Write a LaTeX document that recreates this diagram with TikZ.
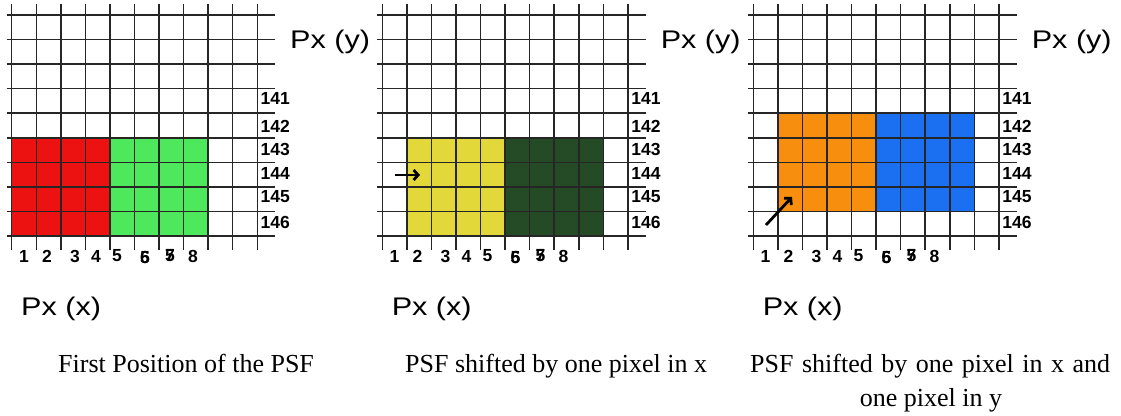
\documentclass[tikz,border=0pt]{standalone}
\usepackage{fontspec}
\setmainfont{Liberation Serif}
\setsansfont{Liberation Sans}
\usetikzlibrary{arrows.meta}
\definecolor{cred}{RGB}{236,18,18}
\definecolor{cgreen}{RGB}{78,232,92}
\definecolor{cyellow}{RGB}{226,216,58}
\definecolor{cdark}{RGB}{36,74,38}
\definecolor{corange}{RGB}{248,142,14}
\definecolor{cblue}{RGB}{26,112,240}
\newcommand\psfpanel[7]{%
  % #1 offset, #2 tag, #3 first col, #4 first row, #5 colour1, #6 colour2
  \fill[#5] ({#1+11.7+24.56*#3},{15+24.55*#4}) rectangle ({#1+11.7+24.56*(#3+4)},{15+24.55*(#4+4)});
  \fill[#6] ({#1+11.7+24.56*(#3+4)},{15+24.55*#4}) rectangle ({#1+11.7+24.56*(#3+8)},{15+24.55*(#4+4)});
  \foreach \i in {0,...,10} {\draw[gridline] ({#1+11.7+24.56*\i},4) -- ({#1+11.7+24.56*\i},250);}
  \foreach \j in {0,...,9} {\draw[gridline] ({#1+6.7},{15+24.55*\j}) -- ({#1+275},{15+24.55*\j});}
  \foreach \t/\yy in {141/98,142/126,143/149,144/173,145/197,146/222}
    {\node[lab,anchor=west] (#2y\t) at ({#1+260.5},\yy) {\t};}
  \node[lab] (#2x1) at ({#1+24},256) {1};
  \node[lab] (#2x2) at ({#1+47},256) {2};
  \node[lab] (#2x3) at ({#1+75},256) {3};
  \node[lab] (#2x4) at ({#1+96},256) {4};
  \node[lab] (#2x5) at ({#1+117},256) {5};
  \node[lab] (#2x6) at ({#1+145},257) {\rlap{5}6};
  \node[lab] (#2x7) at ({#1+170},256) {\rlap{7}5};
  \node[lab] (#2x8) at ({#1+193},256) {8};
  \node[big,anchor=base west] (#2py) at ({#1+290},48) {\scalebox{1.2}[1]{Px (y)}};
  \node[big,anchor=base west] (#2px) at ({#1+21},315) {\scalebox{1.2}[1]{Px (x)}};
  #7
}
\begin{document}
\begin{tikzpicture}[x=1pt,y=-1pt,
  gridline/.style={line width=1.5pt,black!85},
  lab/.style={inner sep=0pt,font=\sffamily\bfseries\fontsize{17.5}{19}\selectfont},
  big/.style={inner sep=0pt,font=\sffamily\fontsize{25.5}{28}\selectfont},
  captext/.style={inner sep=0pt,anchor=base west,font=\rmfamily\fontsize{26}{30}\selectfont},
  shiftarrow/.style={line width=2.8pt,-{Straight Barb[length=4.5pt,width=10pt,line width=2.8pt]}}]
\useasboundingbox[fill=white] (0,0) rectangle (1121,415);
\psfpanel{0}{a}{0}{5}{cred}{cgreen}{}
\psfpanel{370.6}{b}{1}{5}{cyellow}{cdark}{}
\psfpanel{741.6}{c}{1}{4}{corange}{cblue}{}
\coordinate (bs) at (395,175);
\coordinate (be) at (420,175);
\draw[shiftarrow] (bs) -- (be);
\coordinate (cs) at (766,225);
\coordinate (ce) at (792,197);
\draw[shiftarrow] (cs) -- (ce);
\node[captext] (capa) at (58,372) {First Position of the PSF};
\node[captext] (capb) at (405,372) {PSF shifted by one pixel in x};
\node[captext] (capc1) at (750,372) {\makebox[360pt][s]{PSF shifted by one pixel in x and}};
\node[captext,anchor=base] (capc2) at (931,406) {one pixel in y};
\end{tikzpicture}
\end{document}
